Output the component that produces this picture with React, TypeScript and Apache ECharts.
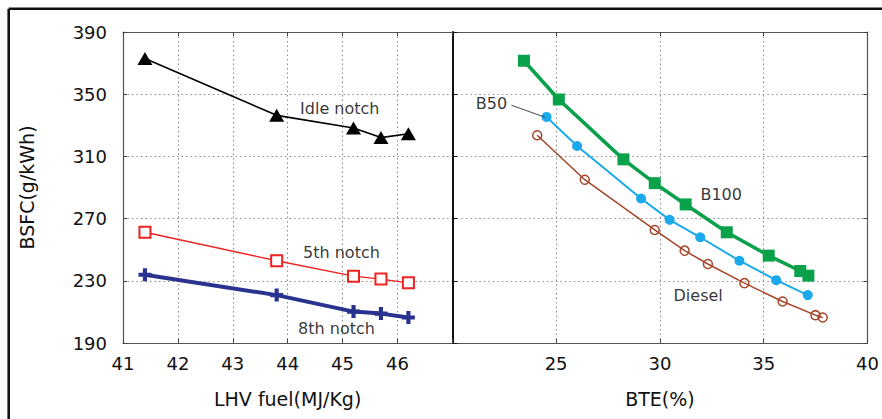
import React, { useEffect, useRef } from "react";
import * as echarts from "echarts";

// ---- Data ----
const lhvFuel = [41.4, 43.8, 45.2, 45.7, 46.2];
const idleNotch = [373.0, 336.4, 328.3, 322.1, 324.6];
const notch5 = [261.2, 242.9, 233.0, 231.1, 228.7];
const notch8 = [233.9, 220.8, 210.2, 208.9, 206.4];

const b100BTE = [23.45, 25.13, 28.24, 29.75, 31.24, 33.22, 35.24, 36.76, 37.15];
const b100 = [371.5, 346.6, 308.1, 292.8, 279.1, 261.2, 246.2, 236.3, 233.3];
const b50BTE = [24.54, 26.01, 29.09, 30.47, 31.94, 33.83, 35.6, 37.12];
const b50 = [335.4, 316.7, 282.9, 269.2, 258.0, 242.9, 230.4, 220.8];
const dieselBTE = [24.09, 26.38, 29.75, 31.19, 32.31, 34.07, 35.91, 37.49, 37.84];
const diesel = [323.6, 295.0, 262.7, 249.4, 240.8, 228.5, 216.7, 207.9, 206.4];

// annotation texts placed in data coordinates: [x, y, text]
const leftNotes: [number, number, string][] = [
  [44.95, 341.0, "Idle notch"],
  [44.98, 248.3, "5th notch"],
  [44.89, 199.3, "8th notch"],
];
const rightNotes: [number, number, string][] = [
  [21.89, 344.0, "B50"],
  [32.95, 285.3, "B100"],
  [31.84, 220.8, "Diesel"],
];
const b50Leader = [
  [22.85, 342.9],
  [24.46, 335.2],
];

const FONT = "DejaVu Sans";
const zip = (xs: number[], ys: number[]) => xs.map((x, i) => [x, ys[i]]);

export default function App() {
  const ref = useRef<HTMLDivElement>(null);
  useEffect(() => {
    document.body.style.margin = "0";
    const chart = echarts.init(ref.current!, null, { renderer: "svg" });
    const gridLine = { show: true, lineStyle: { color: "#8a8a8a", width: 1, type: [1.5, 3] as any } };
    const tickLabel = { color: "#111", fontSize: 18, fontFamily: FONT };
    const border = { show: true, lineStyle: { color: "#555", width: 1.2 } };
    const inTick = { show: true, inside: true, length: 4, lineStyle: { color: "#444" } };
    const noteSeries = (notes: [number, number, string][], xi: number, yi: number) => ({
      type: "scatter",
      xAxisIndex: xi,
      yAxisIndex: yi,
      silent: true,
      symbol: "circle",
      symbolSize: 1,
      itemStyle: { color: "rgba(0,0,0,0)" },
      data: notes.map((n) => [n[0], n[1], n[2]]),
      label: {
        show: true,
        position: "inside",
        formatter: (p: any) => p.value[2],
        color: "#000",
        fontSize: 16,
        fontFamily: FONT,
      },
      z: 5,
    });
    chart.setOption({
      animation: false,
      backgroundColor: "#fff",
      grid: [
        { left: 123, top: 32, width: 329.3, height: 311 },
        { left: 452.3, top: 32, width: 416.7, height: 311 },
      ],
      xAxis: [
        {
          gridIndex: 0, type: "value", min: 41, max: 47, interval: 1, position: "bottom",
          axisLine: border, axisTick: inTick, splitLine: gridLine,
          axisLabel: { ...tickLabel, margin: 11, formatter: (v: number) => (v === 47 ? "" : String(v)) },
          name: "LHV fuel(MJ/Kg)", nameLocation: "middle", nameGap: 46,
          nameTextStyle: { color: "#111", fontSize: 19, fontFamily: FONT },
        },
        {
          gridIndex: 0, type: "value", min: 41, max: 47, interval: 1, position: "top",
          axisLine: border, axisTick: inTick, splitLine: { show: false }, axisLabel: { show: false },
        },
        {
          gridIndex: 1, type: "value", min: 20, max: 40, interval: 5, position: "bottom",
          axisLine: border, axisTick: inTick, splitLine: gridLine,
          axisLabel: { ...tickLabel, margin: 11, formatter: (v: number) => (v === 20 ? "" : String(v)) },
          name: "BTE(%)", nameLocation: "middle", nameGap: 46,
          nameTextStyle: { color: "#111", fontSize: 19, fontFamily: FONT },
        },
        {
          gridIndex: 1, type: "value", min: 20, max: 40, interval: 5, position: "top",
          axisLine: border, axisTick: inTick, splitLine: { show: false }, axisLabel: { show: false },
        },
      ],
      yAxis: [
        {
          gridIndex: 0, type: "value", min: 190, max: 390, interval: 40, position: "left",
          axisLine: border, axisTick: inTick, splitLine: gridLine,
          axisLabel: { ...tickLabel, margin: 16 },
          name: "BSFC(g/kWh)", nameLocation: "middle", nameGap: 87, nameRotate: 90,
          nameTextStyle: { color: "#111", fontSize: 19, fontFamily: FONT },
        },
        {
          gridIndex: 1, type: "value", min: 190, max: 390, interval: 40, position: "left",
          axisLine: { show: true, lineStyle: { color: "#111", width: 2 } },
          axisTick: { show: true, inside: true, length: 5, lineStyle: { color: "#111" } },
          splitLine: gridLine, axisLabel: { show: false },
        },
        {
          gridIndex: 1, type: "value", min: 190, max: 390, interval: 40, position: "right",
          axisLine: border, axisTick: inTick, splitLine: { show: false }, axisLabel: { show: false },
        },
      ],
      graphic: [
        { type: "line", shape: { x1: 8.7, y1: 8.7, x2: 882, y2: 8.7 }, style: { stroke: "#111", lineWidth: 2.6 } },
        { type: "line", shape: { x1: 8.7, y1: 8.7, x2: 8.7, y2: 419 }, style: { stroke: "#111", lineWidth: 2.6 } },
      ],
      series: [
        {
          name: "Idle notch", type: "line", xAxisIndex: 0, yAxisIndex: 0, data: zip(lhvFuel, idleNotch),
          symbol: "triangle", symbolSize: [15, 13], itemStyle: { color: "#000" },
          lineStyle: { color: "#000", width: 1.6 }, z: 3,
        },
        {
          name: "5th notch", type: "line", xAxisIndex: 0, yAxisIndex: 0, data: zip(lhvFuel, notch5),
          symbol: "emptyRect", symbolSize: 11, itemStyle: { color: "#ee2222", borderWidth: 1.5 },
          lineStyle: { color: "#ee2222", width: 1.4 }, z: 3,
        },
        {
          name: "8th notch", type: "line", xAxisIndex: 0, yAxisIndex: 0, data: zip(lhvFuel, notch8),
          symbol: "path://M3.4,0H6.6V3.4H10V6.6H6.6V10H3.4V6.6H0V3.4H3.4Z", symbolSize: 13,
          itemStyle: { color: "#2a3290" }, lineStyle: { color: "#2a3290", width: 4 }, z: 3,
        },
        {
          name: "B100", type: "line", xAxisIndex: 2, yAxisIndex: 1, data: zip(b100BTE, b100),
          symbol: "rect", symbolSize: 12, itemStyle: { color: "#0aa14b" },
          lineStyle: { color: "#0aa14b", width: 3.6 }, z: 3,
        },
        {
          name: "B50", type: "line", xAxisIndex: 2, yAxisIndex: 1, data: zip(b50BTE, b50),
          symbol: "circle", symbolSize: 10, itemStyle: { color: "#1aa9ea" },
          lineStyle: { color: "#1aa9ea", width: 2 }, z: 3,
          markLine: {
            silent: true, symbol: ["none", "none"], label: { show: false },
            lineStyle: { color: "#333", width: 0.9, type: "solid" },
            data: [[{ coord: b50Leader[0] }, { coord: b50Leader[1] }]],
          },
        },
        {
          name: "Diesel", type: "line", xAxisIndex: 2, yAxisIndex: 1, data: zip(dieselBTE, diesel),
          symbol: "circle", symbolSize: 9,
          itemStyle: { color: "rgba(255,255,255,0)", borderColor: "#a5462a", borderWidth: 1.5 },
          lineStyle: { color: "#a5462a", width: 1.5 }, z: 3,
        },
        noteSeries(leftNotes, 0, 0),
        noteSeries(rightNotes, 2, 1),
      ],
    });
    return () => chart.dispose();
  }, []);
  return <div ref={ref} style={{ width: 882, height: 419 }} />;
}
